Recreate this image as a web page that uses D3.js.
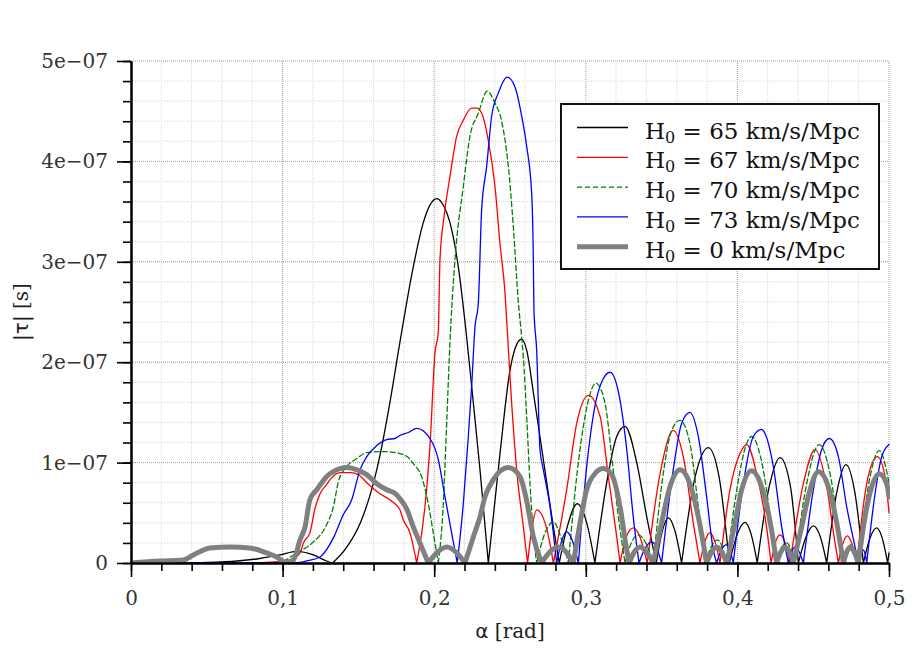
<!DOCTYPE html>
<html><head><meta charset="utf-8">
<script src="https://cdn.jsdelivr.net/npm/d3@7"></script>
<style>body{margin:0;background:#fff}</style>
</head><body>
<svg id="chart" width="915" height="659"></svg>
<script>
// ---- data (tau in units of 1e-7 s) ----
const xTickValues = [0, 0.1, 0.2, 0.3, 0.4, 0.5];
const xTickLabels = ["0", "0,1", "0,2", "0,3", "0,4", "0,5"];
const yTickValues = [0, 1, 2, 3, 4, 5];
const yTickLabels = ["0", "1e\u221207", "2e\u221207", "3e\u221207", "4e\u221207", "5e\u221207"];
const h0Values = [65, 67, 70, 73, 0];
const seriesColors = ["#000000", "#ff0000", "#008000", "#0000ff", "#808080"];

const tau65 = [[0,0],[0.03,0],[0.05,0.005],[0.07,0.02],[0.085,0.045],[0.0983,0.08],[0.1093,0.115],[0.1203,0.08],[0.129,0.02],[0.133,0],
[0.142,0.15],[0.1513,0.40],[0.16,0.80],[0.1642,1.07],[0.1708,1.6],[0.1774,2.2],[0.1862,2.95],[0.1928,3.39],[0.197,3.56],[0.2017,3.63],[0.2065,3.55],[0.2104,3.39],[0.2159,2.95],[0.2214,2.25],[0.2247,1.76],[0.2302,0.93],[0.2357,0],
[0.2434,1.09],[0.25,1.92],[0.2545,2.18],[0.2577,2.23],[0.261,2.12],[0.2654,1.70],[0.272,1.03],[0.2786,0.36],[0.2825,0],
[0.2874,0.34],[0.2944,0.59],[0.3006,0.40],[0.306,0],
[0.3138,0.80],[0.3204,1.26],[0.3259,1.36],[0.3336,1.00],[0.3402,0.46],[0.3465,0],
[0.3505,0.32],[0.3544,0.45],[0.3588,0.32],[0.3632,0],
[0.372,0.85],[0.3808,1.15],[0.388,0.85],[0.3947,0],
[0.4,0.29],[0.405,0.405],[0.409,0.29],[0.4131,0],
[0.421,0.76],[0.4281,1.05],[0.435,0.76],[0.4402,0],
[0.4455,0.27],[0.4501,0.37],[0.4545,0.27],[0.4589,0],
[0.4655,0.70],[0.4716,0.98],[0.4775,0.70],[0.4831,0],
[0.4875,0.25],[0.4919,0.35],[0.4955,0.25],[0.4991,0],[0.5,0.1]];

const tau67 = [[0,0],[0.08,0],[0.095,0.01],[0.105,0.03],[0.1115,0.1],[0.1137,0.2],[0.118,0.3],[0.1215,0.55],[0.1247,0.69],[0.129,0.78],[0.1313,0.83],[0.1379,0.90],[0.145,0.90],[0.15,0.88],[0.1555,0.80],[0.1642,0.69],[0.1708,0.63],[0.1741,0.59],[0.1774,0.53],[0.1796,0.43],[0.184,0.30],[0.1885,0],
[0.1939,0.56],[0.1972,1.16],[0.2005,2.09],[0.2027,2.3],[0.2038,3.02],[0.2065,3.45],[0.2104,3.85],[0.2148,4.25],[0.2192,4.41],[0.2247,4.53],[0.228,4.53],[0.2313,4.48],[0.2357,4.21],[0.2401,3.75],[0.2434,3.18],[0.2467,2.69],[0.2478,2.42],[0.2511,1.59],[0.2544,0.93],[0.2588,0.36],[0.2616,0],
[0.2645,0.35],[0.2676,0.53],[0.2731,0.40],[0.276,0.22],[0.2786,0],
[0.2874,0.73],[0.294,1.39],[0.3017,1.67],[0.3094,1.46],[0.3149,0.86],[0.3204,0.26],[0.3226,0],
[0.3265,0.25],[0.3313,0.35],[0.336,0.25],[0.3405,0],
[0.349,0.89],[0.3577,1.32],[0.3643,1.06],[0.3709,0.40],[0.3753,0],
[0.3785,0.21],[0.3819,0.30],[0.3852,0.21],[0.3885,0],
[0.3951,0.73],[0.4017,1.09],[0.4061,1.18],[0.4127,0.89],[0.4193,0.35],[0.4222,0],
[0.425,0.2],[0.4281,0.28],[0.4315,0.2],[0.4347,0],
[0.4435,0.79],[0.4512,1.13],[0.4589,0.76],[0.4644,0.2],[0.4666,0],
[0.4695,0.19],[0.4725,0.27],[0.4756,0.19],[0.4787,0],
[0.4853,0.79],[0.4923,1.06],[0.4974,0.86],[0.5,0.5]];

const tau70 = [[0,0],[0.09,0],[0.1,0.02],[0.1093,0.1],[0.1203,0.21],[0.129,0.38],[0.1335,0.56],[0.1368,0.81],[0.1423,0.96],[0.1489,1.04],[0.1555,1.10],[0.1687,1.11],[0.1741,1.10],[0.1774,1.09],[0.1829,1.05],[0.1862,0.99],[0.1917,0.86],[0.1961,0.59],[0.1994,0.30],[0.2027,0],
[0.206,0.59],[0.2083,1.42],[0.2104,2.2],[0.2137,3.02],[0.2192,3.75],[0.2236,4.25],[0.2291,4.48],[0.235,4.70],[0.2401,4.58],[0.2445,4.40],[0.2489,3.95],[0.2522,3.35],[0.2555,2.6],[0.2577,2.25],[0.2588,2.05],[0.261,1.46],[0.2632,0.79],[0.2654,0.30],[0.2676,0],
[0.2731,0.3],[0.2786,0.41],[0.2841,0.23],[0.2885,0],
[0.294,0.86],[0.2995,1.46],[0.3067,1.79],[0.3127,1.59],[0.3171,1.06],[0.3215,0.46],[0.3259,0],
[0.33,0.2],[0.3346,0.28],[0.3395,0.2],[0.3445,0],
[0.3511,0.89],[0.3566,1.32],[0.3621,1.42],[0.3687,1.19],[0.3742,0.56],[0.3786,0],
[0.3827,0.16],[0.3868,0.23],[0.39,0.16],[0.393,0],
[0.3996,0.73],[0.4061,1.19],[0.4094,1.26],[0.4149,1.08],[0.4204,0.6],[0.4248,0],
[0.4285,0.14],[0.4325,0.2],[0.4352,0.14],[0.438,0],
[0.4457,0.79],[0.454,1.18],[0.4611,0.89],[0.4677,0.23],[0.4699,0],
[0.4722,0.13],[0.4748,0.18],[0.4773,0.13],[0.4798,0],
[0.4875,0.86],[0.4936,1.12],[0.4996,0.83],[0.5,0.8]];

const tau73 = [[0,0],[0.1,0],[0.1115,0.005],[0.1159,0.02],[0.1247,0.06],[0.1335,0.25],[0.14,0.48],[0.1456,0.63],[0.1511,0.93],[0.1555,1.06],[0.1621,1.17],[0.1687,1.23],[0.1741,1.24],[0.1774,1.27],[0.1829,1.30],[0.1885,1.34],[0.1972,1.24],[0.2027,1.03],[0.2071,0.66],[0.2115,0.30],[0.2152,0],
[0.2192,0.59],[0.2225,1.26],[0.2247,1.76],[0.2269,2.35],[0.2291,2.59],[0.2313,3.52],[0.2346,3.95],[0.2379,4.45],[0.2423,4.68],[0.2482,4.84],[0.2533,4.74],[0.2577,4.45],[0.261,4.15],[0.2643,3.68],[0.2654,3.02],[0.2658,2.52],[0.2676,2.12],[0.2698,1.13],[0.272,0.93],[0.2764,0.56],[0.2808,0],
[0.2841,0.22],[0.2874,0.31],[0.2912,0.22],[0.2951,0],
[0.3006,0.96],[0.306,1.56],[0.311,1.82],[0.316,1.90],[0.3226,1.62],[0.327,1.13],[0.3313,0.46],[0.3351,0],
[0.3393,0.15],[0.3435,0.21],[0.3468,0.15],[0.35,0],
[0.3577,0.93],[0.3632,1.39],[0.3687,1.50],[0.3742,1.26],[0.3797,0.66],[0.3841,0.13],[0.3863,0],
[0.3894,0.13],[0.3925,0.18],[0.395,0.13],[0.3973,0],
[0.4039,0.79],[0.4105,1.26],[0.416,1.33],[0.4182,1.29],[0.4237,0.96],[0.4292,0.36],[0.4336,0],
[0.4358,0.11],[0.438,0.16],[0.4408,0.11],[0.4435,0],
[0.4501,0.73],[0.4556,1.13],[0.4606,1.24],[0.4666,1.06],[0.4721,0.56],[0.4776,0.16],[0.4798,0],
[0.4815,0.09],[0.4831,0.13],[0.4842,0.09],[0.4853,0],
[0.4908,0.69],[0.4952,1.06],[0.5,1.18]];

const tau0 = [[0,0],[0.0191,0.02],[0.0345,0.03],[0.0411,0.08],[0.0521,0.15],[0.0653,0.16],[0.0785,0.15],[0.0895,0.10],[0.0961,0.06],[0.1016,0],
[0.1071,0.03],[0.1115,0.23],[0.1148,0.36],[0.118,0.63],[0.1225,0.73],[0.129,0.86],[0.1379,0.94],[0.1423,0.95],[0.1466,0.94],[0.1555,0.88],[0.1621,0.79],[0.1687,0.73],[0.1752,0.68],[0.1774,0.64],[0.1818,0.54],[0.1862,0.36],[0.1906,0.2],[0.1961,0],
[0.2015,0.1],[0.2083,0.16],[0.215,0.1],[0.2203,0],
[0.2258,0.26],[0.2302,0.46],[0.2335,0.66],[0.239,0.83],[0.2489,0.95],[0.2566,0.86],[0.261,0.62],[0.2654,0.26],[0.2709,0],
[0.2762,0.11],[0.2819,0.16],[0.287,0.11],[0.2918,0],
[0.2962,0.40],[0.3006,0.73],[0.306,0.89],[0.3116,0.94],[0.3171,0.88],[0.3226,0.56],[0.327,0.13],[0.3287,0],
[0.332,0.11],[0.3358,0.16],[0.34,0.11],[0.3445,0],
[0.35,0.40],[0.3555,0.76],[0.3621,0.93],[0.3687,0.79],[0.3742,0.46],[0.3797,0],
[0.383,0.11],[0.3863,0.16],[0.3897,0.11],[0.393,0],
[0.3984,0.40],[0.4028,0.73],[0.4094,0.92],[0.416,0.76],[0.4204,0.5],[0.4225,0.33],[0.4259,0],
[0.4287,0.11],[0.4314,0.16],[0.4342,0.11],[0.4369,0],
[0.4424,0.36],[0.4479,0.73],[0.4534,0.91],[0.46,0.76],[0.4655,0.40],[0.4699,0],
[0.4721,0.11],[0.4743,0.16],[0.477,0.11],[0.4798,0],
[0.4842,0.46],[0.4886,0.76],[0.4934,0.89],[0.4985,0.79],[0.5,0.66]];

const seriesData = [tau65, tau67, tau70, tau73, tau0];
const seriesWidth = [1.3, 1.3, 1.3, 1.3, 5];
const seriesDash = [null, null, "5,3", null, null];

// ---- layout ----
const svg = d3.select("#chart");
const L = 131, T = 61, R = 889, B = 563;
const x = d3.scaleLinear().domain([0, 0.5]).range([L, R]);
const y = d3.scaleLinear().domain([0, 5]).range([B, T]);
const serif = "'DejaVu Serif', serif";

// grid
const g = svg.append("g");
const xMinor = d3.range(0, 0.5001, 0.02);
const yMinor = d3.range(0, 5.001, 0.2);
g.selectAll(".vx").data(xMinor).enter().append("line")
  .attr("x1", d => x(d)).attr("x2", d => x(d)).attr("y1", T).attr("y2", B)
  .attr("stroke", d => Math.abs(d*10 - Math.round(d*10)) < 1e-6 ? "#9a9a9a" : "#d9d9d9")
  .attr("stroke-width", 1).attr("stroke-dasharray", "1,1");
g.selectAll(".hy").data(yMinor).enter().append("line")
  .attr("y1", d => y(d)).attr("y2", d => y(d)).attr("x1", L).attr("x2", R)
  .attr("stroke", d => Math.abs(d - Math.round(d)) < 1e-6 ? "#9a9a9a" : "#d9d9d9")
  .attr("stroke-width", 1).attr("stroke-dasharray", "1,1");

// curves
svg.append("clipPath").attr("id", "clip").append("rect")
  .attr("x", L).attr("y", T - 5).attr("width", R - L + 1).attr("height", B - T + 5);
const line = d3.line().x(d => x(d[0])).y(d => y(d[1])).curve(d3.curveMonotoneX);
function lobes(pts) {
  const segs = []; let cur = [pts[0]];
  for (let i = 1; i < pts.length; i++) {
    cur.push(pts[i]);
    if (pts[i][1] === 0 && i < pts.length - 1) { segs.push(cur); cur = [pts[i]]; }
  }
  segs.push(cur);
  return segs;
}
const cg = svg.append("g").attr("clip-path", "url(#clip)");
seriesData.forEach((pts, i) => {
  cg.append("path")
    .attr("d", lobes(pts).map(s => line(s)).join(""))
    .attr("fill", "none").attr("stroke", seriesColors[i])
    .attr("stroke-width", seriesWidth[i])
    .attr("stroke-dasharray", seriesDash[i])
    .attr("stroke-linejoin", "round").attr("stroke-linecap", "round");
});

// axes
const yAxis = d3.axisLeft(y).tickValues(yTickValues).tickFormat((d, i) => yTickLabels[i]).tickSize(14).tickSizeOuter(0).tickPadding(9);
const yMinorAxis = d3.axisLeft(y).tickValues(yMinor).tickFormat("").tickSize(8).tickSizeOuter(0);
const xAxis = d3.axisBottom(x).tickValues(xTickValues).tickFormat((d, i) => xTickLabels[i]).tickSize(14).tickSizeOuter(0).tickPadding(14);
const xMinorAxis = d3.axisBottom(x).tickValues(xMinor).tickFormat("").tickSize(8).tickSizeOuter(0);

function style(sel) {
  sel.select(".domain").attr("stroke", "#000").attr("stroke-width", 2);
  sel.selectAll(".tick line").attr("stroke", "#000").attr("stroke-width", 1.6);
  sel.selectAll(".tick text").attr("font-family", serif).attr("font-size", 20).attr("fill", "#333");
}
svg.append("g").attr("transform", `translate(${L},0)`).call(yMinorAxis).call(style);
svg.append("g").attr("transform", `translate(${L},0)`).call(yAxis).call(style);
svg.append("g").attr("transform", `translate(0,${B})`).call(xMinorAxis).call(style);
svg.append("g").attr("transform", `translate(0,${B})`).call(xAxis).call(style);

// axis titles
const xt = svg.append("text").attr("x", (L + R) / 2).attr("y", 638).attr("text-anchor", "middle")
  .attr("font-family", serif).attr("font-size", 20).attr("fill", "#222");
xt.append("tspan").attr("font-family", "'DejaVu Sans', sans-serif").text("\u03b1");
xt.append("tspan").text(" [rad]");
const yt = svg.append("text").attr("transform", `translate(28,${(T + B) / 2}) rotate(-90)`).attr("text-anchor", "middle")
  .attr("font-family", serif).attr("font-size", 20).attr("fill", "#222");
yt.append("tspan").text("|");
yt.append("tspan").attr("font-family", "'DejaVu Sans', sans-serif").text("\u03c4");
yt.append("tspan").text("| [s]");

// legend
const lg = svg.append("g");
lg.append("rect").attr("x", 561).attr("y", 104).attr("width", 318).attr("height", 165)
  .attr("fill", "#fff").attr("stroke", "#111").attr("stroke-width", 2);
h0Values.forEach((h, i) => {
  const ly = 127.5 + i * 29.8;
  lg.append("line").attr("x1", 577).attr("x2", 628).attr("y1", ly).attr("y2", ly)
    .attr("stroke", seriesColors[i]).attr("stroke-width", seriesWidth[i])
    .attr("stroke-dasharray", seriesDash[i]);
  const t = lg.append("text").attr("x", 645).attr("y", ly + 11)
    .attr("font-family", serif).attr("font-size", 23).attr("fill", "#111");
  t.append("tspan").text("H");
  t.append("tspan").attr("font-size", 16).attr("dy", 4).text("0");
  t.append("tspan").attr("dy", -4).text(` = ${h} km/s/Mpc`);
});
</script>
</body></html>
